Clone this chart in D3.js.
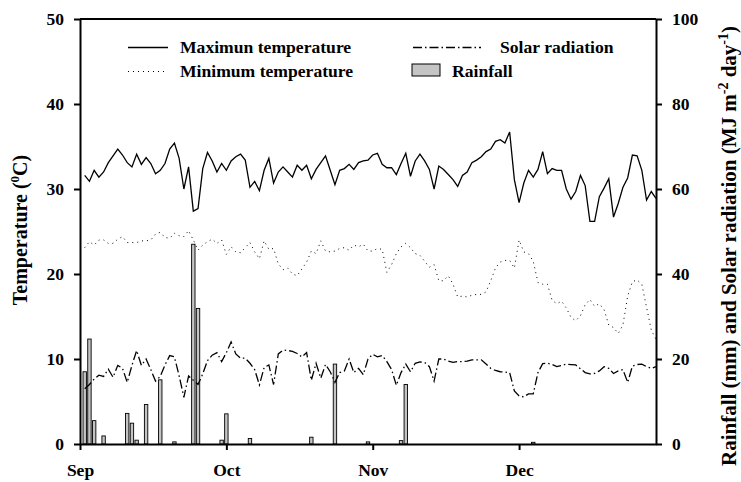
<!DOCTYPE html>
<meta charset="utf-8">
<style>
	body {
		margin: 0;
		background: #fff;
	}

	text {
		font-family: "Liberation Serif", "Times New Roman", serif;
		font-weight: bold;
	}

	.axis path,
	.axis line {
		fill: none;
		stroke: #000;
		stroke-width: 2px;
	}

	.axis text {
		font-size: 17.5px;
	}

	.legend text {
		font-size: 17.6px;
	}
</style>

<body>
	<script src="https://d3js.org/d3.v7.min.js"></script>
	<script>
		// daily values, index 0 = 1 Sep ... index 121 = 31 Dec
		var maxTemp = [
			31.6, 30.9, 32.2, 31.4, 32.0, 33.1, 33.9, 34.7, 34.0, 33.1,
			32.6, 34.1, 32.9, 33.7, 33.0, 31.8, 32.2, 33.0, 34.7, 35.4,
			33.6, 30.0, 32.6, 27.4, 27.7, 32.4, 34.3, 33.3, 32.0, 33.0,
			32.2, 33.3, 33.8, 34.1, 33.4, 30.2, 30.9, 29.8, 32.2, 33.6,
			30.7, 32.0, 32.6, 32.0, 31.4, 32.8, 32.2, 32.8, 31.2, 32.3,
			33.1, 33.9, 32.2, 30.5, 32.2, 32.4, 32.9, 32.3, 33.1, 33.3,
			33.4, 34.0, 34.2, 32.9, 32.5, 32.5, 31.7, 33.0, 34.2, 31.5,
			33.3, 34.1, 33.3, 32.3, 30.0, 32.7, 32.3, 31.7, 31.1, 30.3,
			31.6, 32.0, 33.1, 33.4, 33.8, 34.4, 34.7, 35.6, 35.8, 35.4,
			36.7, 31.1, 28.4, 30.7, 32.2, 31.4, 32.3, 34.4, 31.8, 32.4,
			32.2, 32.2, 30.0, 28.8, 29.7, 31.6, 30.4, 26.2, 26.2, 29.1,
			30.1, 31.2, 26.7, 28.3, 30.2, 31.3, 34.0, 33.9, 32.2, 28.7,
			29.7, 28.9
		];

		var minTemp = [
			23.1, 23.8, 23.4, 24.0, 24.0, 23.6, 23.6, 24.1, 24.4, 23.7,
			23.7, 23.7, 23.9, 23.9, 24.0, 24.7, 24.9, 24.3, 24.2, 24.8,
			24.5, 24.4, 25.1, 24.0, 22.8, 23.4, 23.8, 24.1, 23.6, 24.0,
			22.3, 23.2, 22.6, 22.5, 23.1, 23.7, 22.6, 21.8, 23.9, 22.9,
			23.0, 21.2, 20.5, 20.7, 20.0, 19.8, 20.6, 21.4, 22.7, 22.4,
			23.9, 22.7, 22.6, 22.7, 23.0, 23.1, 22.8, 23.4, 23.2, 23.5,
			22.7, 22.7, 23.0, 22.9, 20.2, 21.1, 22.4, 23.2, 23.6, 23.1,
			22.4, 22.2, 21.5, 20.8, 21.1, 19.2, 19.2, 19.8, 18.8, 17.3,
			17.4, 17.3, 17.5, 17.6, 17.6, 17.9, 19.2, 20.7, 21.4, 21.6,
			21.6, 20.7, 24.0, 22.6, 22.4, 21.5, 19.0, 18.8, 18.8, 16.9,
			16.5, 16.8, 16.0, 14.9, 14.5, 15.1, 16.4, 17.0, 16.2, 16.5,
			15.8, 14.0, 13.7, 13.0, 14.0, 17.4, 19.1, 19.3, 18.8, 16.1,
			13.4, 12.3
		];

		var solarRad = [
			13.0, 14.0, 15.3, 16.2, 15.9, 17.6, 15.7, 18.5, 17.8, 14.5,
			18.5, 22.0, 18.5, 20.0, 17.5, 14.8, 15.9, 18.6, 20.8, 20.5,
			16.0, 11.0, 16.0, 15.0, 14.0, 16.5, 19.6, 20.9, 21.5, 19.4,
			21.5, 24.0, 21.2, 20.2, 20.2, 19.0, 17.5, 13.9, 18.0, 18.6,
			14.0, 21.2, 22.1, 22.0, 21.8, 21.3, 20.5, 21.5, 15.0, 19.0,
			15.5, 18.7, 17.0, 14.5, 16.8, 17.2, 20.0, 16.8, 17.8, 16.3,
			20.0, 21.1, 20.5, 20.8, 19.4, 17.5, 13.8, 16.8, 18.8, 17.0,
			19.0, 19.3, 19.2, 18.2, 14.8, 20.0, 20.0, 19.5, 19.2, 19.4,
			19.4, 19.5, 19.8, 19.8, 19.8, 18.8, 17.8, 17.3, 17.0, 16.9,
			16.8, 12.5, 11.3, 11.1, 11.8, 11.8, 16.8, 18.9, 19.0, 18.7,
			18.2, 18.5, 18.8, 18.7, 18.6, 17.7, 16.8, 16.5, 16.6, 17.2,
			18.2, 17.8, 16.6, 17.2, 17.5, 14.5, 18.3, 18.7, 18.8, 18.2,
			17.8, 18.2
		];

		// rainfall only on the days it fell
		var rainDays = [0, 1, 2, 4, 9, 10, 11, 13, 16, 19, 23, 24, 29, 30, 35, 48, 53, 60, 67, 68, 95];
		var rainMm = [17.0, 24.7, 5.5, 1.9, 7.2, 4.9, 0.9, 9.3, 15.1, 0.5, 47.0, 31.9, 0.9, 7.1, 1.3, 1.6, 18.8, 0.5, 0.8, 14.0, 0.4];

		var monthNames = ["Sep", "Oct", "Nov", "Dec"];
		var monthDays = [-1, 30, 61, 92];

		var tempTicks = [0, 10, 20, 30, 40, 50];
		var rightTicks = [0, 20, 40, 60, 80, 100];

		var width = 741,
			height = 482;

		var margin = {
			top: 19,
			right: 85,
			bottom: 38,
			left: 80
		};

		var svg = d3.select("body").append("svg")
			.attr("width", width)
			.attr("height", height);

		var x = d3.scaleLinear()
			.domain([-1, 121])
			.range([margin.left, width - margin.right]);

		var yT = d3.scaleLinear()
			.domain([0, 50])
			.range([height - margin.bottom, margin.top]);

		var yR = d3.scaleLinear()
			.domain([0, 100])
			.range([height - margin.bottom, margin.top]);

		var rain = rainDays.map(function(d, i) {
			return { day: d, mm: rainMm[i] };
		});

		// rainfall bars
		svg.selectAll(".bar")
			.data(rain)
			.enter().append("rect")
			.attr("class", "bar")
			.attr("x", function(d) { return x(d.day) - 1.7; })
			.attr("width", 3.4)
			.attr("y", function(d) { return yR(d.mm); })
			.attr("height", function(d) { return yR(0) - yR(d.mm); })
			.style("fill", "#c4c4c4")
			.style("stroke", "#000")
			.style("stroke-width", 0.9);

		var lineT = d3.line()
			.x(function(d, i) { return x(i); })
			.y(function(d) { return yT(d); });

		var lineR = d3.line()
			.x(function(d, i) { return x(i); })
			.y(function(d) { return yR(d); });

		svg.append("path")
			.datum(solarRad)
			.attr("d", lineR)
			.style("fill", "none")
			.style("stroke", "#000")
			.style("stroke-width", 1.3)
			.style("stroke-dasharray", "9,3,1.5,3");

		svg.append("path")
			.datum(minTemp)
			.attr("d", lineT)
			.style("fill", "none")
			.style("stroke", "#000")
			.style("stroke-width", 1)
			.style("stroke-dasharray", "1,4");

		svg.append("path")
			.datum(maxTemp)
			.attr("d", lineT)
			.style("fill", "none")
			.style("stroke", "#000")
			.style("stroke-width", 1.3);

		// axes
		var xAxis = d3.axisBottom(x)
			.tickValues(monthDays)
			.tickFormat(function(d, i) { return monthNames[i]; })
			.tickSizeInner(6)
			.tickSizeOuter(0)
			.tickPadding(14);

		var yAxisL = d3.axisLeft(yT)
			.tickValues(tempTicks)
			.tickSizeInner(6)
			.tickSizeOuter(0)
			.tickPadding(10);

		var yAxisR = d3.axisRight(yR)
			.tickValues(rightTicks)
			.tickSizeInner(6)
			.tickSizeOuter(0)
			.tickPadding(10);

		svg.append("g")
			.attr("class", "x axis")
			.attr("transform", "translate(0," + (height - margin.bottom) + ")")
			.call(xAxis);

		svg.append("g")
			.attr("class", "y axis")
			.attr("transform", "translate(" + margin.left + ",0)")
			.call(yAxisL);

		svg.append("g")
			.attr("class", "y axis")
			.attr("transform", "translate(" + (width - margin.right) + ",0)")
			.call(yAxisR);

		// top frame line
		svg.append("line")
			.attr("x1", margin.left)
			.attr("x2", width - margin.right)
			.attr("y1", margin.top)
			.attr("y2", margin.top)
			.style("stroke", "#000")
			.style("stroke-width", 2);

		// axis titles
		var tl = svg.append("text")
			.attr("transform", "translate(27,230) rotate(-90)")
			.style("text-anchor", "middle")
			.style("font-size", "20px");
		tl.append("tspan").text("Temperature (");
		tl.append("tspan").attr("dy", -8).style("font-size", "13px").text("0");
		tl.append("tspan").attr("dy", 8).text("C)");

		var tr = svg.append("text")
			.attr("transform", "translate(736,246) rotate(-90)")
			.style("text-anchor", "middle")
			.style("font-size", "21px");
		tr.append("tspan").text("Rainfall (mm) and Solar radiation (MJ m");
		tr.append("tspan").attr("dy", -8).style("font-size", "14px").text("-2");
		tr.append("tspan").attr("dy", 8).text(" day");
		tr.append("tspan").attr("dy", -8).style("font-size", "14px").text("-1");
		tr.append("tspan").attr("dy", 8).text(")");

		// legend
		var legend = svg.append("g").attr("class", "legend");

		legend.append("line")
			.attr("x1", 128).attr("x2", 168).attr("y1", 47.5).attr("y2", 47.5)
			.style("stroke", "#000").style("stroke-width", 1.3);
		legend.append("text").attr("x", 180).attr("y", 53)
			.text("Maximun temperature");

		legend.append("line")
			.attr("x1", 128).attr("x2", 168).attr("y1", 71.5).attr("y2", 71.5)
			.style("stroke", "#000").style("stroke-width", 1)
			.style("stroke-dasharray", "1,4");
		legend.append("text").attr("x", 180).attr("y", 77)
			.text("Minimum temperature");

		legend.append("line")
			.attr("x1", 413).attr("x2", 481).attr("y1", 47.5).attr("y2", 47.5)
			.style("stroke", "#000").style("stroke-width", 1.3)
			.style("stroke-dasharray", "9,3,1.5,3");
		legend.append("text").attr("x", 500).attr("y", 53)
			.text("Solar radiation");

		legend.append("rect")
			.attr("x", 412).attr("y", 64).attr("width", 28).attr("height", 12)
			.style("fill", "#c4c4c4").style("stroke", "#000").style("stroke-width", 1);
		legend.append("text").attr("x", 452).attr("y", 77)
			.text("Rainfall");
	</script>
</body>
